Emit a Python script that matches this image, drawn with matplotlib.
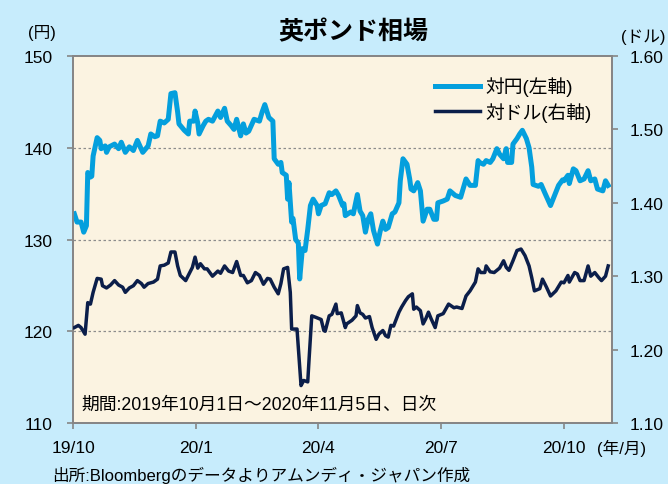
import pandas as pd
import matplotlib.pyplot as plt
import matplotlib.dates as mdates

plt.rcParams['font.family'] = ['Liberation Sans', 'Noto Sans CJK JP']

# days counted from 2019-10-01
jpy_days = [1, 3, 6, 8, 10, 11, 13, 14, 15, 18, 20, 21, 24, 25, 27, 31, 34, 36, 39, 42,
            45, 48, 52, 56, 58, 61, 63, 65, 68, 71, 73, 76, 78, 79, 83, 86, 87, 90, 91, 93,
            94, 97, 99, 101, 104, 108, 110, 113, 115, 118, 120, 122, 125, 127, 129, 131, 135, 139, 141, 143,
            146, 149, 150, 153, 155, 156, 159, 160, 161, 163, 164, 166, 168, 169, 171, 173, 175, 177, 179, 182,
            183, 185, 188, 191, 193, 196, 198, 201, 202, 203, 207, 209, 212, 214, 216, 218, 220, 222, 224, 227,
            229, 231, 233, 235, 238, 240, 243, 244, 246, 249, 251, 252, 254, 257, 259, 261, 264, 266, 269, 271,
            272, 276, 279, 281, 285, 289, 293, 296, 300, 302, 303, 306, 308, 311, 313, 316, 318, 321, 323, 324,
            327, 328, 331, 333, 335, 338, 340, 342, 343, 347, 349, 352, 356, 359, 362, 365, 366, 369, 370, 373,
            375, 378, 381, 384, 386, 389, 391, 395, 397, 399]
jpy = [132.8, 131.9, 131.9, 130.8, 131.5, 137.3, 136.8, 136.9, 139.1, 141.1, 140.8, 139.9, 140.2, 139.5, 140.1, 140.4, 139.9, 140.6, 139.5, 140.1,
       139.7, 140.8, 139.5, 140.2, 141.5, 141.2, 141.3, 142.9, 142.7, 143.1, 145.9, 146.0, 143.9, 142.6, 141.9, 141.5, 142.9, 142.9, 144.0, 142.7,
       141.5, 142.4, 142.9, 143.1, 142.9, 144.0, 143.3, 144.3, 142.9, 142.4, 142.0, 143.1, 141.3, 142.6, 141.6, 141.8, 143.1, 142.9, 143.9, 144.7,
       143.3, 142.9, 138.8, 138.2, 138.4, 137.3, 137.0, 134.4, 136.2, 131.9, 132.3, 130.0, 129.6, 125.7, 129.0, 128.8, 131.1, 133.7, 134.4, 133.7,
       132.8, 133.7, 133.9, 135.1, 134.9, 135.3, 134.8, 133.7, 133.9, 132.6, 133.0, 132.8, 134.9, 133.1, 132.6, 130.8, 132.2, 132.8, 131.0, 129.5,
       130.9, 132.0, 131.1, 131.3, 132.8, 133.0, 134.0, 136.4, 138.8, 138.2, 136.6, 135.5, 135.3, 136.2, 135.3, 132.0, 133.3, 133.3, 132.2, 132.2,
       134.0, 134.2, 134.4, 135.3, 134.8, 134.6, 136.6, 135.9, 135.9, 138.6, 138.4, 138.2, 138.6, 138.4, 138.8, 139.9, 139.3, 138.8, 139.9, 138.4,
       138.4, 140.4, 141.0, 141.5, 141.9, 141.0, 140.0, 137.9, 136.0, 135.8, 136.0, 135.0, 133.7, 134.8, 135.9, 136.5, 136.4, 137.0, 136.1, 137.7,
       137.5, 136.4, 136.6, 137.5, 136.4, 136.6, 135.5, 135.3, 136.4, 135.9]

usd_days = [1, 4, 6, 9, 11, 13, 15, 18, 21, 22, 25, 28, 31, 34, 37, 39, 42, 45, 48, 51,
            53, 56, 60, 63, 65, 68, 71, 73, 76, 78, 80, 84, 87, 89, 91, 93, 95, 98, 100, 104,
            108, 110, 113, 116, 119, 122, 125, 127, 130, 133, 136, 139, 142, 145, 147, 150, 153, 155, 157, 160,
            162, 163, 167, 170, 172, 175, 176, 178, 181, 185, 187, 188, 191, 193, 196, 197, 200, 203, 204, 208,
            211, 212, 214, 216, 218, 221, 223, 226, 228, 231, 233, 235, 237, 239, 243, 245, 248, 250, 253, 254,
            256, 259, 261, 263, 265, 267, 270, 272, 276, 280, 284, 286, 290, 293, 296, 300, 302, 304, 307, 308,
            311, 314, 318, 321, 323, 325, 328, 331, 334, 337, 340, 342, 344, 348, 350, 353, 356, 360, 364, 366,
            369, 370, 374, 376, 378, 381, 384, 386, 389, 392, 394, 396, 397, 399]
usd = [1.230, 1.233, 1.230, 1.221, 1.264, 1.262, 1.278, 1.297, 1.296, 1.287, 1.284, 1.288, 1.294, 1.288, 1.285, 1.278, 1.284, 1.287, 1.294, 1.290,
       1.285, 1.290, 1.292, 1.296, 1.314, 1.315, 1.318, 1.333, 1.333, 1.314, 1.301, 1.294, 1.305, 1.312, 1.326, 1.311, 1.317, 1.310, 1.310, 1.300,
       1.307, 1.304, 1.314, 1.307, 1.305, 1.320, 1.301, 1.301, 1.291, 1.294, 1.305, 1.301, 1.289, 1.297, 1.296, 1.285, 1.276, 1.290, 1.310, 1.312,
       1.278, 1.228, 1.228, 1.151, 1.158, 1.156, 1.187, 1.246, 1.244, 1.241, 1.226, 1.225, 1.246, 1.248, 1.262, 1.249, 1.250, 1.230, 1.235, 1.240,
       1.246, 1.260, 1.250, 1.248, 1.243, 1.245, 1.230, 1.214, 1.221, 1.226, 1.219, 1.217, 1.233, 1.232, 1.251, 1.258, 1.267, 1.272, 1.276, 1.255,
       1.258, 1.253, 1.235, 1.242, 1.251, 1.242, 1.230, 1.246, 1.249, 1.262, 1.257, 1.258, 1.256, 1.273, 1.280, 1.292, 1.310, 1.305, 1.305, 1.314,
       1.306, 1.305, 1.311, 1.321, 1.312, 1.308, 1.321, 1.335, 1.337, 1.328, 1.314, 1.298, 1.280, 1.283, 1.296, 1.285, 1.273, 1.280, 1.292, 1.291,
       1.301, 1.292, 1.305, 1.303, 1.294, 1.294, 1.314, 1.300, 1.305, 1.298, 1.294, 1.298, 1.300, 1.314]

tick_dates = ['2019-10-01', '2020-01-01', '2020-04-01', '2020-07-01', '2020-10-01']
tick_labels = ['19/10', '20/1', '20/4', '20/7', '20/10']

start = pd.Timestamp('2019-10-01')
jpy_x = start + pd.to_timedelta(jpy_days, unit='D')
usd_x = start + pd.to_timedelta(usd_days, unit='D')

bg = '#C7ECFC'
fig = plt.figure(figsize=(6.68, 4.85), dpi=100, facecolor=bg)
ax = fig.add_axes([73 / 668, 1 - 424 / 485, 539 / 668, 367 / 485])
ax.set_facecolor('#FBF3E1')
ax2 = ax.twinx()

l1, = ax.plot(jpy_x, jpy, color='#049FDD', lw=3.6, solid_joinstyle='round', label='対円(左軸)', zorder=3)
l2, = ax2.plot(usd_x, usd, color='#0B1E4A', lw=2.5, solid_joinstyle='round', label='対ドル(右軸)', zorder=3)

ax.set_xlim(start, pd.Timestamp('2020-11-05 20:00'))
ax.set_ylim(110, 150)
ax2.set_ylim(1.10, 1.60)
ax.set_yticks([110, 120, 130, 140, 150])
ax2.set_yticks([1.10, 1.20, 1.30, 1.40, 1.50, 1.60])
ax2.set_yticklabels(['1.10', '1.20', '1.30', '1.40', '1.50', '1.60'])
ax.set_xticks(pd.to_datetime(tick_dates))
ax.set_xticklabels(tick_labels)

for y in [120, 130, 140]:
    ax.axhline(y, color='#8C8C8C', lw=0.9, ls=(0, (2, 2)), zorder=1)

for a in (ax, ax2):
    for s in a.spines.values():
        s.set_color('#868686')
        s.set_linewidth(1.3)
ax.tick_params(axis='y', length=4.5, width=1.2, color='#868686', pad=10, labelsize=12.5)
ax.tick_params(axis='x', length=4, width=1.2, color='#868686', pad=8, labelsize=12.5)
ax2.tick_params(axis='y', length=4, width=1.2, color='#868686', pad=9, labelsize=12.5)

leg = ax.legend(handles=[l1, l2], loc='upper right', bbox_to_anchor=(1.0, 1.0), frameon=False,
                fontsize=13.5, handlelength=2.4, handletextpad=0.3, labelspacing=0.3,
                borderaxespad=0.7)

ax.text(0.016, 0.05, '期間:2019年10月1日～2020年11月5日、日次', transform=ax.transAxes, fontsize=12.8,
        ha='left', va='center')

fig.text(353 / 668, 1 - 32 / 485, '英ポンド相場', ha='center', va='center', fontsize=18, fontweight='bold')
fig.text(42 / 668, 1 - 33 / 485, '(円)', ha='center', va='center', fontsize=12)
fig.text(643 / 668, 1 - 37 / 485, '(ドル)', ha='center', va='center', fontsize=12)
fig.text(622 / 668, 1 - 448 / 485, '(年/月)', ha='center', va='center', fontsize=12)
fig.text(52 / 668, 1 - 475 / 485, '出所:Bloombergのデータよりアムンディ・ジャパン作成', ha='left', va='center',
         fontsize=12)

fig.savefig('out.png', dpi=100, facecolor=bg)
